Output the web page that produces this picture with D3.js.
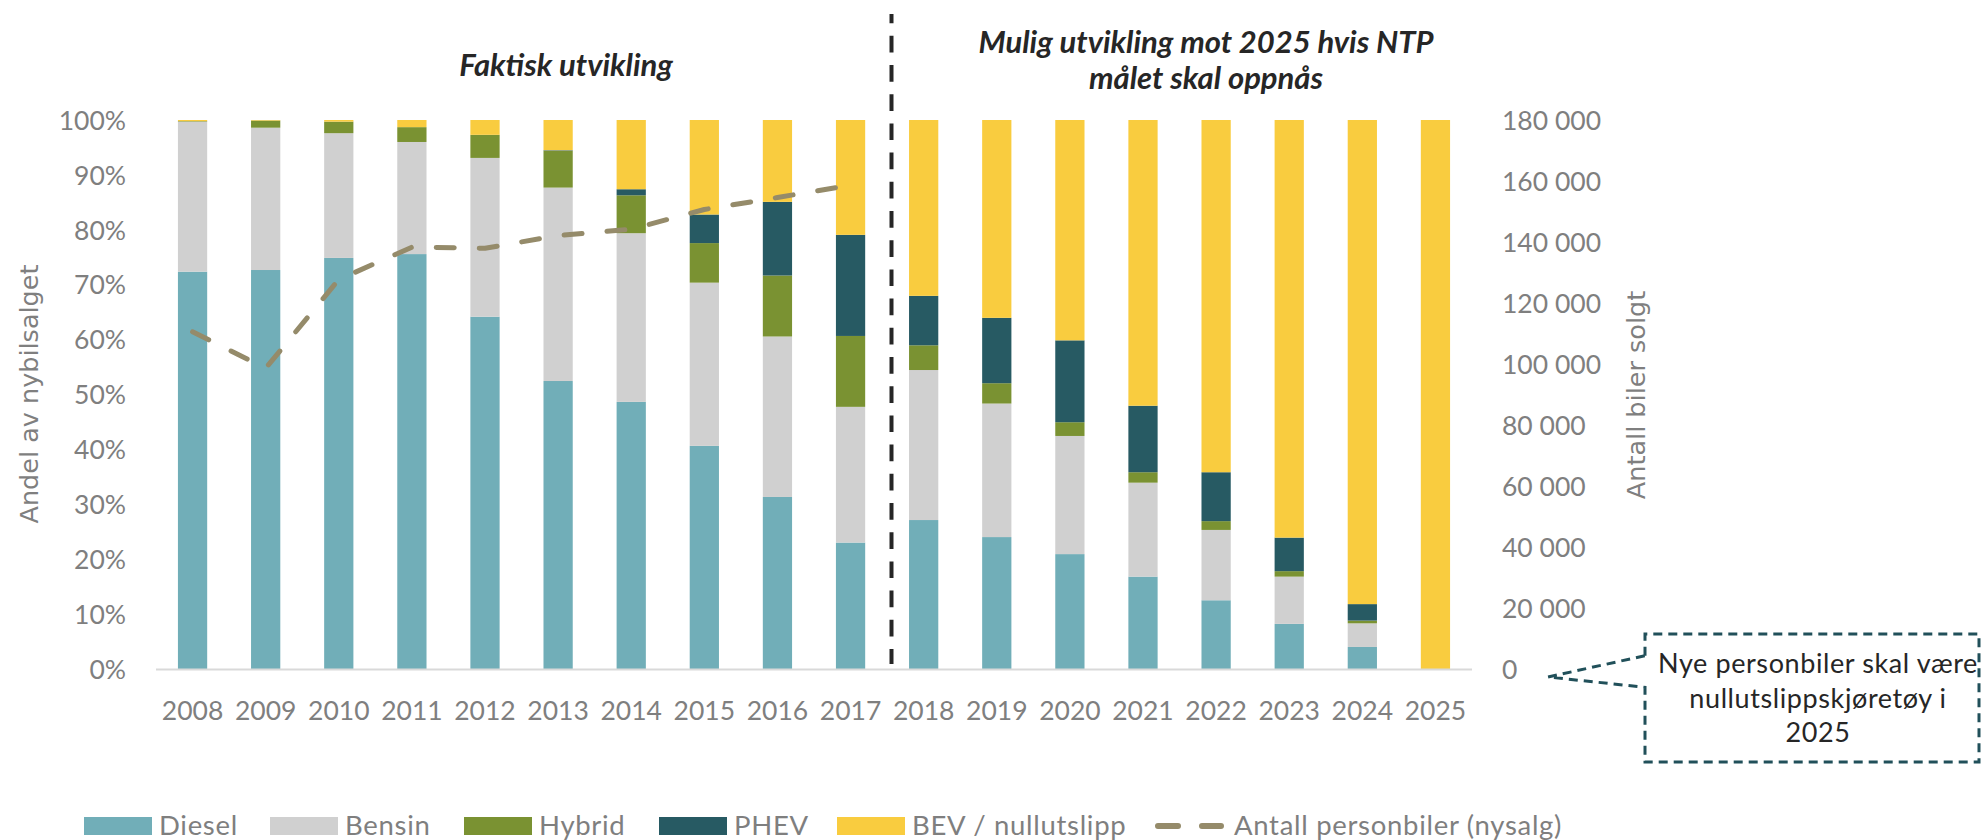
<!DOCTYPE html>
<html>
<head>
<meta charset="utf-8">
<script src="https://cdn.jsdelivr.net/npm/d3@7"></script>
<style>
  html, body { margin: 0; padding: 0; background: #fff; }
  svg { display: block; }
  .tick-label { font-family: Lato, sans-serif; font-size: 26.5px; fill: #7f7f7f; }
  .legend-label { font-family: Lato, sans-serif; font-size: 27.5px; letter-spacing: 0.7px; fill: #7f7f7f; }
  .axis-title { font-family: 'DejaVu Sans', sans-serif; font-size: 25.5px; fill: #7f7f7f; }
  .section-title { font-family: Lato, sans-serif; font-size: 31px; font-weight: bold; font-style: italic; fill: #262626; }
  .note { font-family: Lato, sans-serif; font-size: 27px; letter-spacing: 0.6px; fill: #262626; }
</style>
</head>
<body>
<svg width="1983" height="840"></svg>
<script>
// andel av nybilsalget (prosent) per drivstoff
var years  = ['2008','2009','2010','2011','2012','2013','2014','2015','2016','2017',
              '2018','2019','2020','2021','2022','2023','2024','2025'];
var diesel = [72.4, 72.7, 74.9, 75.6, 64.2, 52.5, 48.7, 40.7, 31.4, 23.1, 27.2, 24.1, 21.0, 16.9, 12.6, 8.3, 4.1, 0];
var bensin = [27.3, 25.9, 22.7, 20.4, 28.9, 35.2, 30.7, 29.7, 29.2, 24.7, 27.3, 24.3, 21.5, 17.1, 12.8, 8.6, 4.3, 0];
var hybrid = [0.1, 1.3, 2.1, 2.7, 4.2, 6.7, 6.9, 7.2, 11.1, 12.9, 4.5, 3.7, 2.5, 1.9, 1.6, 1.0, 0.5, 0];
var phev   = [0, 0, 0, 0, 0, 0.1, 1.1, 5.2, 13.4, 18.4, 9.0, 11.9, 14.9, 12.1, 8.9, 6.1, 3.0, 0];
var bev    = [0.2, 0.1, 0.3, 1.3, 2.7, 5.5, 12.6, 17.2, 14.9, 20.9, 32.0, 36.0, 40.1, 52.0, 64.1, 76.0, 88.1, 100];

// antall personbiler solgt (faktisk, 2008-2017)
var salesYears = ['2008','2009','2010','2011','2012','2013','2014','2015','2016','2017'];
var sales = [110617, 98675, 127754, 138345, 137967, 142151, 144202, 150686, 154603, 158650];

var seriesNames  = ['Diesel', 'Bensin', 'Hybrid', 'PHEV', 'BEV / nullutslipp'];
var seriesColors = ['#71aeb8', '#d0d0d0', '#7a9232', '#275a63', '#f9cc3f'];
var leftTicks  = [0, 0.1, 0.2, 0.3, 0.4, 0.5, 0.6, 0.7, 0.8, 0.9, 1];
var rightTicks = [0, 20000, 40000, 60000, 80000, 100000, 120000, 140000, 160000, 180000];

var svg = d3.select('svg');

var x = d3.scaleBand()
    .domain(years)
    .range([156, 1472])
    .paddingInner(0.6)
    .paddingOuter(0.3);

var y = d3.scaleLinear().domain([0, 1]).range([669.5, 120]);
var y2 = d3.scaleLinear().domain([0, 180000]).range([669.5, 120]);

// table for the stack
var table = years.map(function(yr, i) {
  return { year: yr, Diesel: diesel[i] / 100, Bensin: bensin[i] / 100, Hybrid: hybrid[i] / 100,
           PHEV: phev[i] / 100, 'BEV / nullutslipp': bev[i] / 100 };
});
var stacked = d3.stack().keys(seriesNames)(table);

svg.append('g').selectAll('g')
  .data(stacked)
  .join('g')
    .attr('fill', function(d, i) { return seriesColors[i]; })
  .selectAll('rect')
  .data(function(d) { return d; })
  .join('rect')
    .attr('x', function(d) { return x(d.data.year); })
    .attr('width', x.bandwidth())
    .attr('y', function(d) { return y(d[1]); })
    .attr('height', function(d) { return Math.max(0, y(d[0]) - y(d[1])); });

// x axis line
svg.append('line')
  .attr('x1', x.range()[0]).attr('x2', x.range()[1])
  .attr('y1', y(0)).attr('y2', y(0))
  .attr('stroke', '#d9d9d9').attr('stroke-width', 2);

// x labels
svg.append('g').selectAll('text')
  .data(years)
  .join('text')
    .attr('class', 'tick-label')
    .attr('text-anchor', 'middle')
    .attr('x', function(d) { return x(d) + x.bandwidth() / 2; })
    .attr('y', 719.5)
    .text(function(d) { return d; });

// left axis labels
svg.append('g').selectAll('text')
  .data(leftTicks)
  .join('text')
    .attr('class', 'tick-label')
    .attr('text-anchor', 'end')
    .attr('x', 126)
    .attr('y', function(d) { return y(d) + 9.6; })
    .text(d3.format('.0%'));

// right axis labels
svg.append('g').selectAll('text')
  .data(rightTicks)
  .join('text')
    .attr('class', 'tick-label')
    .attr('x', 1502)
    .attr('y', function(d) { return y2(d) + 9.6; })
    .text(function(d) { return d3.format(',')(d).replace(/,/g, ' '); });

// axis titles
svg.append('text')
  .attr('class', 'axis-title')
  .attr('text-anchor', 'middle')
  .attr('transform', 'translate(38,394) rotate(-90)')
  .text('Andel av nybilsalget');

svg.append('text')
  .attr('class', 'axis-title')
  .attr('text-anchor', 'middle')
  .attr('transform', 'translate(1645,395) rotate(-90)')
  .text('Antall biler solgt');

// sales line
var line = d3.line()
  .x(function(d, i) { return x(salesYears[i]) + x.bandwidth() / 2; })
  .y(function(d) { return y2(d); });

svg.append('path')
  .datum(sales)
  .attr('d', line)
  .attr('fill', 'none')
  .attr('stroke', '#958b6a')
  .attr('stroke-width', 5)
  .attr('stroke-linecap', 'round')
  .attr('stroke-linejoin', 'round')
  .attr('stroke-dasharray', '18,25');

// divider between actual and scenario
svg.append('line')
  .attr('x1', 891.5).attr('x2', 891.5)
  .attr('y1', 14).attr('y2', 664)
  .attr('stroke', '#262626')
  .attr('stroke-width', 4)
  .attr('stroke-dasharray', '16.7,12.5')
  .attr('stroke-dashoffset', 7.4);

// section titles
svg.append('text')
  .attr('class', 'section-title')
  .attr('text-anchor', 'middle')
  .attr('x', 566).attr('y', 76)
  .text('Faktisk utvikling');

var t2 = svg.append('text')
  .attr('class', 'section-title')
  .attr('text-anchor', 'middle');
t2.append('tspan').attr('x', 1206).attr('y', 53).text('Mulig utvikling mot 2025 hvis NTP');
t2.append('tspan').attr('x', 1206).attr('y', 89).text('målet skal oppnås');

// callout
svg.append('path')
  .attr('d', 'M1645,655.7 L1645,634 L1979,634 L1979,762 L1645,762 L1645,687.3 L1548,677 Z')
  .attr('fill', '#fff')
  .attr('stroke', '#21505a')
  .attr('stroke-width', 3)
  .attr('stroke-dasharray', '9,6');

var note = svg.append('text')
  .attr('class', 'note')
  .attr('text-anchor', 'middle');
['Nye personbiler skal være', 'nullutslippskjøretøy i', '2025'].forEach(function(s, i) {
  note.append('tspan').attr('x', 1818).attr('y', 673 + i * 34.5).text(s);
});

// legend
var legendX = [84, 270, 464, 659, 837];
var legend = svg.append('g').attr('class', 'legend');
seriesNames.forEach(function(name, i) {
  legend.append('rect')
    .attr('x', legendX[i]).attr('y', 817)
    .attr('width', 68).attr('height', 18)
    .attr('fill', seriesColors[i]);
  legend.append('text')
    .attr('class', 'legend-label')
    .attr('x', legendX[i] + 75).attr('y', 835)
    .text(name);
});
legend.append('line')
  .attr('x1', 1158).attr('x2', 1221)
  .attr('y1', 826).attr('y2', 826)
  .attr('stroke', '#958b6a')
  .attr('stroke-width', 6)
  .attr('stroke-linecap', 'round')
  .attr('stroke-dasharray', '20,24');
legend.append('text')
  .attr('class', 'legend-label')
  .attr('x', 1234).attr('y', 835)
  .text('Antall personbiler (nysalg)');

console.log('chart drawn');
</script>
</body>
</html>
